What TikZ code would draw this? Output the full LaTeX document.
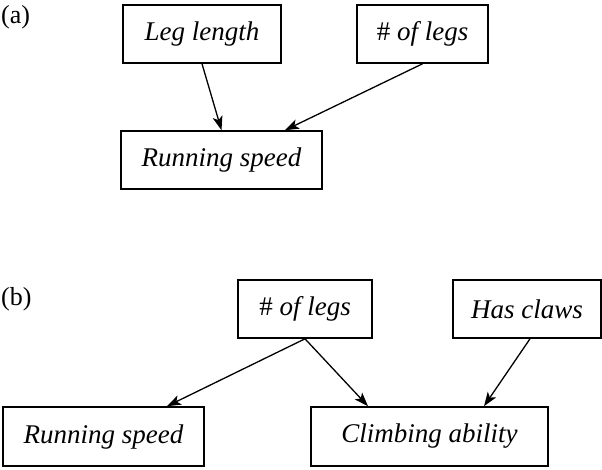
\documentclass[tikz,border=0pt]{standalone}
\usepackage{fontspec}
\setmainfont{Liberation Serif}[ItalicFont={Liberation Serif Italic}]
\usetikzlibrary{arrows.meta}
\begin{document}
\begin{tikzpicture}[x=1pt,y=-1pt,
  var/.style={draw,line width=1.6pt,inner sep=0pt,font=\fontsize{27}{32}\selectfont\itshape,minimum height=58pt},
  lbl/.style={inner sep=0pt,font=\fontsize{26}{30}\selectfont},
  conn/.style={line width=1.3pt,-{Stealth[length=14pt,width=10pt,inset=3.5pt]}}]
\useasboundingbox (0,0) rectangle (602,469);
% (a)
\node[lbl,anchor=west] (la) at (1,17) {(a)};
\node[var,minimum width=158pt] (ll) at (202,34) {Leg length};
\node[var,minimum width=131pt] (nla) at (422.5,34) {\upshape\#\itshape{} of legs};
\node[var,minimum width=201pt] (rsa) at (221.5,160) {Running speed};
\draw[conn] (ll.south) -- (rsa.north);
\draw[conn] (nla.south) -- ([xshift=63.5pt]rsa.north);
% (b)
\node[lbl,anchor=west] (lb) at (1,299) {(b)};
\node[var,minimum width=134pt] (nlb) at (305,309) {\upshape\#\itshape{} of legs};
\node[var,minimum width=148pt] (hc) at (527,309) {Has claws};
\node[var,minimum width=201pt,minimum height=59pt] (rsb) at (103.5,436.5) {Running speed};
\node[var,minimum width=237pt,minimum height=59pt] (ca) at (429.5,436.5) {Climbing ability};
\draw[conn] (nlb.south) -- ([xshift=63.5pt]rsb.north);
\draw[conn] (nlb.south) -- ([xshift=-61.5pt]ca.north);
\draw[conn] ([xshift=3pt]hc.south) -- ([xshift=54.5pt]ca.north);
\end{tikzpicture}
\end{document}
